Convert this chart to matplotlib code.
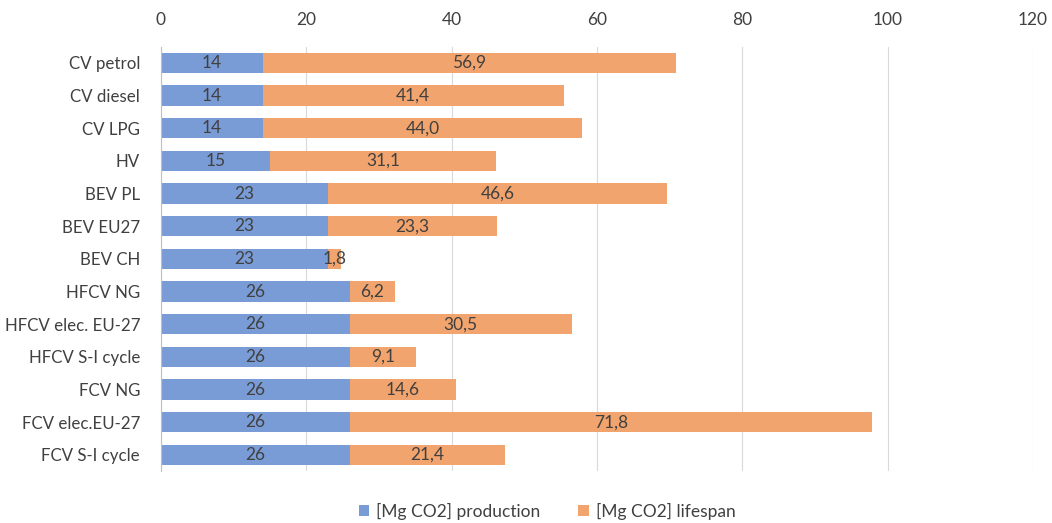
import matplotlib
matplotlib.use("Agg")
import matplotlib.pyplot as plt
import numpy as np

categories = ["CV petrol", "CV diesel", "CV LPG", "HV", "BEV PL", "BEV EU27", "BEV CH",
              "HFCV NG", "HFCV elec. EU-27", "HFCV S-I cycle", "FCV NG", "FCV elec.EU-27", "FCV S-I cycle"]
production = [14, 14, 14, 15, 23, 23, 23, 26, 26, 26, 26, 26, 26]
lifespan = [56.9, 41.4, 44.0, 31.1, 46.6, 23.3, 1.8, 6.2, 30.5, 9.1, 14.6, 71.8, 21.4]
ticks = [0, 20, 40, 60, 80, 100, 120]

plt.rcParams['font.family'] = ['Lato', 'DejaVu Sans']
txt = '#404040'
blue = '#7A9CD6'
orange = '#F1A46D'
fs = 12.2

fig = plt.figure(figsize=(10.52, 5.23), dpi=100)
ax = fig.add_axes([0.153, 0.099, 0.829, 0.812])

y = np.arange(len(categories))
h = 0.62
b1 = ax.barh(y, production, height=h, color=blue, label='[Mg CO2] production', zorder=3)
b2 = ax.barh(y, lifespan, left=production, height=h, color=orange, label='[Mg CO2] lifespan', zorder=3)

for yi, p, l in zip(y, production, lifespan):
    ax.text(p / 2, yi, f"{p}", ha='center', va='center', fontsize=fs + 0.3, color=txt, zorder=4)
    ax.text(p + l / 2, yi, f"{l:.1f}".replace('.', ','), ha='center', va='center', fontsize=fs + 0.3, color=txt, zorder=4)

ax.set_xlim(0, 120)
ax.set_ylim(len(categories) - 0.5, -0.5)
ax.set_xticks(ticks)
ax.xaxis.tick_top()
ax.tick_params(axis='x', length=0, pad=13, labelsize=fs + 0.3, labelcolor=txt)
ax.set_yticks(y)
ax.set_yticklabels(categories)
ax.tick_params(axis='y', length=0, pad=15, labelsize=fs, labelcolor=txt)
ax.grid(axis='x', color='#D9D9D9', linewidth=0.8, zorder=0)
for s in ['top', 'right', 'bottom']:
    ax.spines[s].set_visible(False)
ax.spines['left'].set_color('#BFBFBF')
ax.spines['left'].set_zorder(5)

fig.legend(handles=[b1, b2], loc='center', bbox_to_anchor=(0.52, 0.022), ncol=2, frameon=False,
           fontsize=fs + 0.3, labelcolor=txt, handlelength=0.6, handleheight=0.6, columnspacing=2.2, handletextpad=0.4)

fig.savefig('out.png', dpi=100)
